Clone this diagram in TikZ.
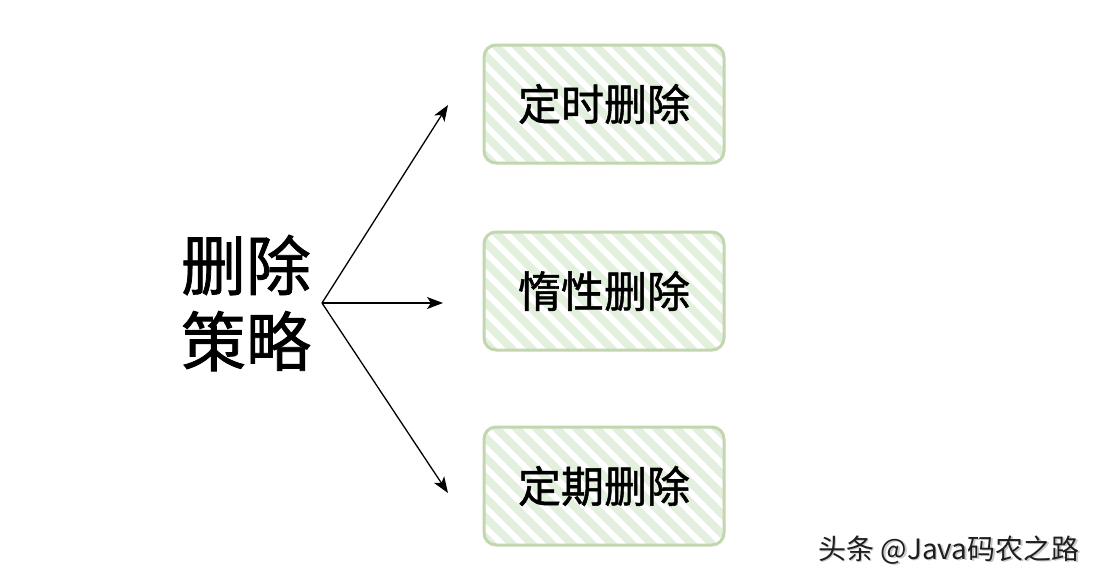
\documentclass[tikz,border=0pt]{standalone}
\usepackage{fontspec}
\newfontfamily\cjk{Noto Sans CJK SC}
\newfontfamily\cjkb[FakeBold=1.2]{Noto Sans CJK SC}
\usetikzlibrary{arrows.meta}
\definecolor{boxgreen}{RGB}{194,215,175}
\definecolor{hatchgreen}{RGB}{228,240,222}
\definecolor{wmgray}{RGB}{30,30,30}
\definecolor{wmshadow}{RGB}{200,200,200}
\tikzset{
  stratbox/.style={draw=boxgreen, line width=3pt, rounded corners=12pt,
    minimum width=240pt, minimum height=118pt, inner sep=0pt,
    font=\cjkb\fontsize{43}{46}\selectfont},
  hatchline/.style={hatchgreen, line width=8pt},
  conn/.style={line width=1.3pt, -{Stealth[length=16pt,width=12pt,inset=4pt]}}
}
\newcommand\hatchbox[1]{%
  \begin{scope}
    \clip[rounded corners=12pt] (484,#1-59) rectangle (724,#1+59);
    \foreach \k in {0,...,19}{
      \draw[hatchline] (344+\k*20,#1-70) -- ++(150,150);
    }
  \end{scope}}
\begin{document}
\begin{tikzpicture}[x=1pt,y=-1pt]
\useasboundingbox[fill=white] (0,0) rectangle (1100,584);
\hatchbox{104}
\hatchbox{291}
\hatchbox{486}
\node[stratbox] (b1) at (604,104) {定时删除};
\node[stratbox] (b2) at (604,291) {惰性删除};
\node[stratbox] (b3) at (604,486) {定期删除};
\node[font=\cjkb\fontsize{65}{76}\selectfont, align=center, inner sep=0pt] (main) at (246,303) {删除\\策略};
\coordinate (src) at (322,303);
\coordinate (t1) at (448,105);
\coordinate (t2) at (443,303);
\coordinate (t3) at (448,493);
\draw[conn] (src) -- (t1);
\draw[conn] (src) -- (t2);
\draw[conn] (src) -- (t3);
\node[font=\cjk\fontsize{28}{30}\selectfont, text=wmshadow, inner sep=0pt] at (950.5,551) {头条 @Java码农之路};
\node[font=\cjk\fontsize{28}{30}\selectfont, text=wmgray, inner sep=0pt] (wm) at (949,550) {头条 @Java码农之路};
\end{tikzpicture}
\end{document}
